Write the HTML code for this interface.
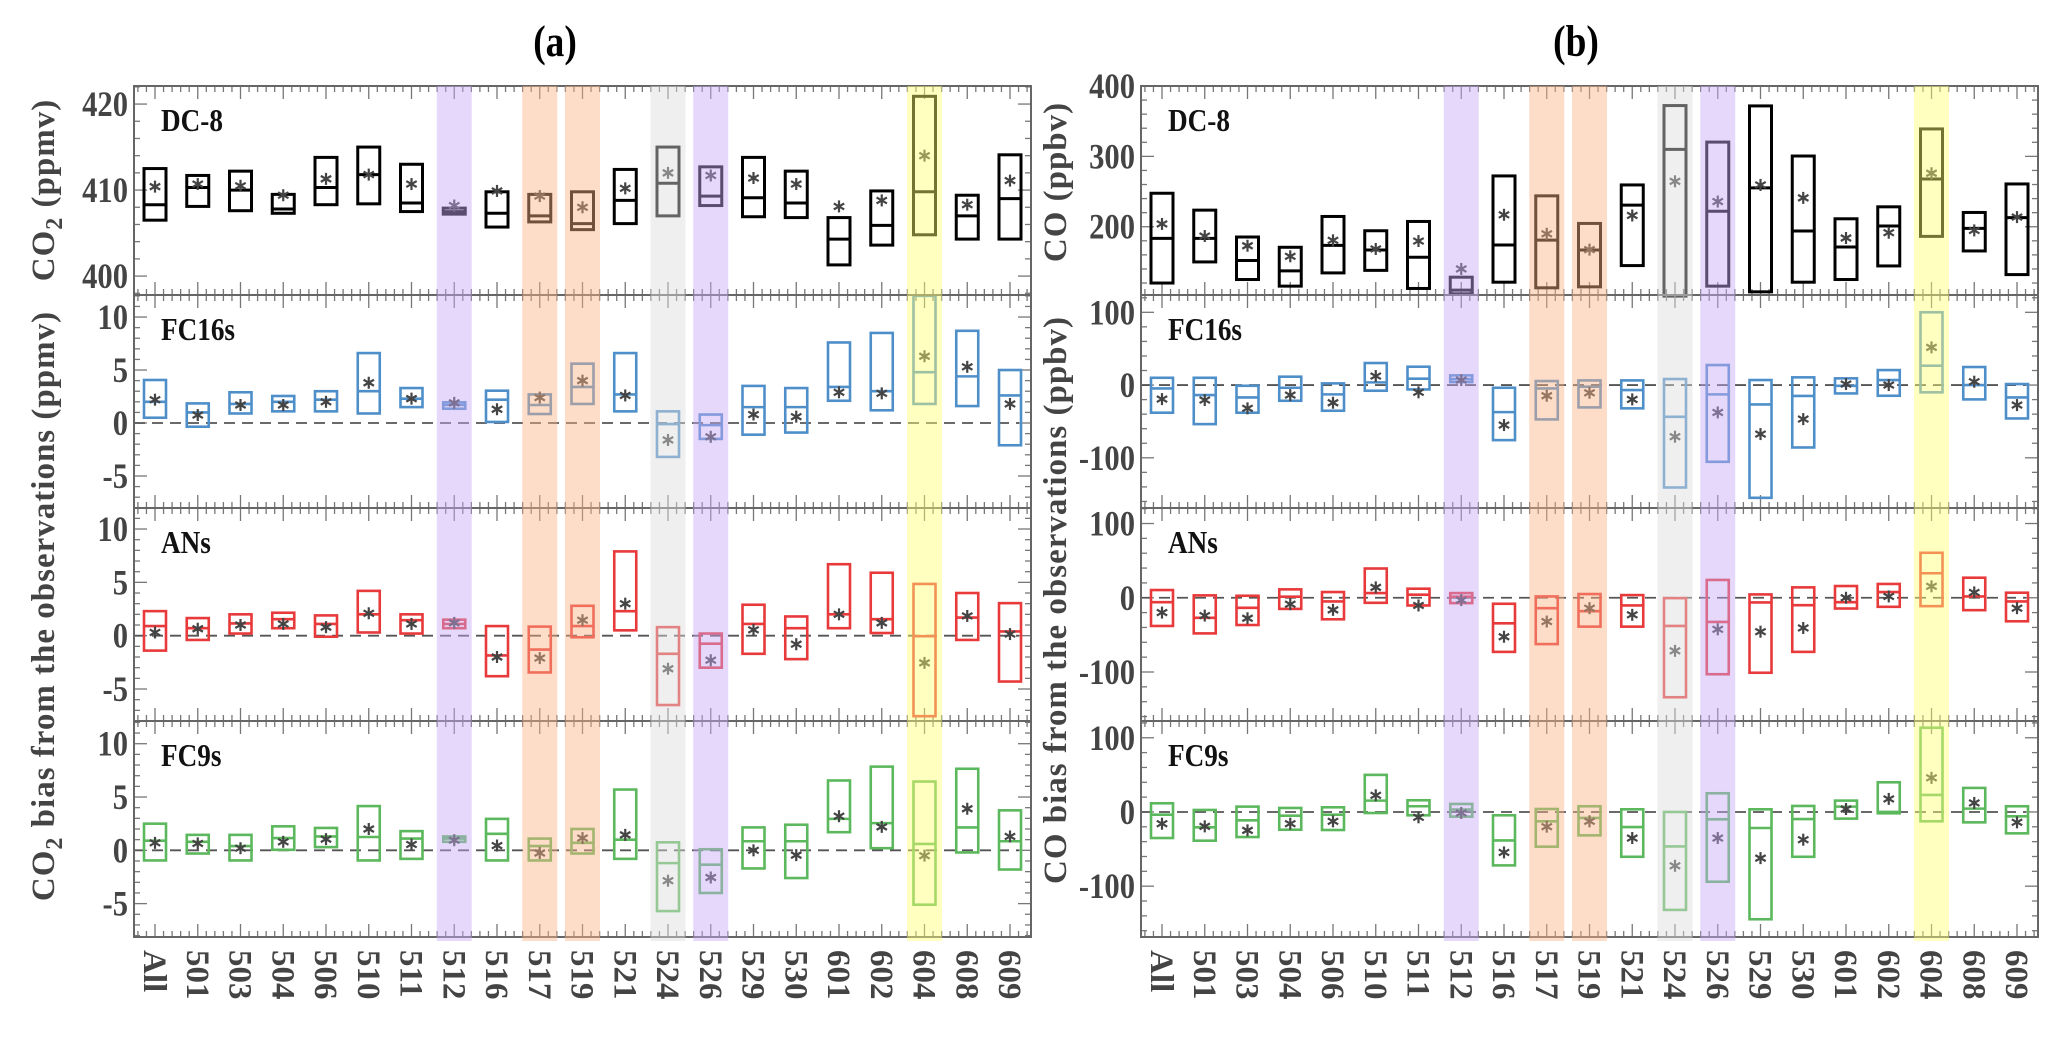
<!DOCTYPE html>
<html><head><meta charset="utf-8"><style>
html,body{margin:0;padding:0;background:#fff;}
svg{display:block;}
text{font-family:"Liberation Serif",serif;}
</style></head><body>
<svg id="chart" width="2066" height="1038" viewBox="0 0 2066 1038" xmlns="http://www.w3.org/2000/svg">
<text transform="translate(555,56) scale(0.85,1)" font-size="44" font-weight="bold" text-anchor="middle">(a)</text>
<text transform="translate(1576,56) scale(0.85,1)" font-size="44" font-weight="bold" text-anchor="middle">(b)</text>
<text transform="translate(54,190) rotate(-90)" font-size="33" font-weight="bold" fill="#444" text-anchor="middle" letter-spacing="1">CO<tspan font-size="24" dy="8">2</tspan><tspan dy="-8"> (ppmv)</tspan></text>
<text transform="translate(54,606) rotate(-90)" font-size="33" font-weight="bold" fill="#444" text-anchor="middle" letter-spacing="1">CO<tspan font-size="24" dy="8">2</tspan><tspan dy="-8"> bias from the observations (ppmv)</tspan></text>
<text transform="translate(1066,182) rotate(-90)" font-size="33" font-weight="bold" fill="#444" text-anchor="middle" letter-spacing="1">CO (ppbv)</text>
<text transform="translate(1066,600) rotate(-90)" font-size="33" font-weight="bold" fill="#444" text-anchor="middle" letter-spacing="1">CO bias from the observations (ppbv)</text>
<g id="layer"></g>
</svg>
<script>
const categories = ['All','501','503','504','506','510','511','512','516','517','519','521','524','526','529','530','601','602','604','608','609'];
const bandCats = ['512','517','519','524','526','604'];
const bandColors = ['#c5a8f5','#fbb285','#fbb285','#dcdcdc','#c5a8f5','#ffff73'];

// Panel (a) CO2
const co2Dc8High = [412.5,411.7,412.2,409.5,413.8,415,413,407.9,409.8,409.5,409.8,412.4,415,412.7,413.8,412.2,406.8,409.9,420.9,409.4,414.1];
const co2Dc8Med  = [408.3,410.3,410,407.8,410.3,411.8,408.5,407.5,407.3,407,406.1,408.8,410.8,409.3,409.1,408.5,404.3,405.9,409.8,407,409];
const co2Dc8Low  = [406.5,408.1,407.6,407.3,408.3,408.4,407.5,407.2,405.7,406.3,405.4,406.1,407,408.2,406.9,406.8,401.3,403.6,404.8,404.3,404.3];
const co2Dc8Mean = [410.4,410.7,410.5,409.4,411.3,411.8,410.7,408.2,409.9,409.3,408,410.2,412,411.7,411.4,410.7,408.1,408.8,414,408.3,411.1];

const co2Fc16High = [4.06,1.85,2.9,2.55,3,6.6,3.3,1.95,3.05,2.7,5.6,6.6,1.1,0.8,3.5,3.3,7.6,8.5,12,8.7,5];
const co2Fc16Med  = [2,1,1.8,2,2.2,3,2.3,1.7,2.2,1.7,3.4,2.7,-0.1,-0.2,1.5,1.5,3.4,3,4.8,4.4,2.6];
const co2Fc16Low  = [0.5,-0.35,0.9,1.1,1.1,0.9,1.5,1.35,0.1,0.85,1.8,1.1,-3.2,-1.5,-1.1,-0.9,2.1,1.2,1.8,1.6,-2.1];
const co2Fc16Mean = [2.2,0.75,1.7,1.7,2,3.8,2.3,1.9,1.3,2.4,4,2.6,-1.6,-1.3,0.8,0.6,2.9,2.8,6.3,5.3,1.8];

const co2AnHigh = [2.3,1.65,2,2.15,1.9,4.2,2,1.5,0.9,0.85,2.8,7.9,0.8,0.2,2.9,1.8,6.7,5.9,4.85,4,3.05];
const co2AnMed  = [0.9,0.7,1.15,1.55,1.1,2,1.45,1.1,-1.85,-1.3,0.9,2.3,-1.7,-0.75,1.1,0.7,2,1.55,-0.05,1.7,0.4];
const co2AnLow  = [-1.4,-0.4,0.2,0.7,-0.1,0.3,0.2,0.7,-3.8,-3.45,-0.15,0.5,-6.5,-3,-1.7,-2.2,0.7,0.25,-7.55,-0.4,-4.3];
const co2AnMean = [0.3,0.65,1,1.1,0.8,2.1,1.1,1.2,-2,-2.1,1.45,3,-3.1,-2.3,0.55,-0.8,2,1.2,-2.55,1.85,0.15];

const co2Fc9High = [2.5,1.45,1.45,2.25,2.1,4.15,1.8,1.3,2.95,1.1,2,5.7,0.75,0.1,2.15,2.4,6.55,7.85,6.45,7.65,3.75];
const co2Fc9Med  = [0.9,0.8,0.4,1.15,1.3,1.25,1.1,1.1,1.55,0.4,0.7,1,-1.2,-1.35,0.85,0.85,2.95,2.55,0.6,2.15,0.85];
const co2Fc9Low  = [-0.95,-0.3,-0.95,0.05,0.3,-0.95,-0.8,0.8,-0.95,-0.95,-0.3,-0.8,-5.7,-4,-1.7,-2.6,1.7,0.2,-5.1,-0.2,-1.8];
const co2Fc9Mean = [0.7,0.65,0.2,0.8,1.05,2,0.55,0.95,0.45,-0.25,1.15,1.45,-2.85,-2.55,0,-0.45,3.2,2.2,-0.5,3.9,1.3];

// Panel (b) CO
const coDc8High = [247.6,223.6,185.4,170.8,214.6,194.3,207.5,128.3,272.2,243.9,204.7,259.4,372.2,320.3,371.7,300.5,211.3,228.3,339,220.3,260.8];
const coDc8Med  = [183.5,183.5,152,137.3,173.6,167,156.6,110,174,181,167,230.7,310,222,255.2,193.9,171.2,201,267.9,197.6,213];
const coDc8Low  = [120,150,125,115.6,134.4,138,112.3,104.7,121.2,113.2,114.6,144.8,101.4,115.6,107.5,121.2,125,144.3,186.3,165.6,132];
const coDc8Mean = [204,186.8,173,158,180.7,168.4,179.7,140,217,190,167.5,216,264.6,235.8,259.4,241,184,191.5,276,194.8,213.7];

const coFc16High = [10,10,-1,11.5,2.3,30.3,25.2,13.3,-3.7,5.5,6.4,6.4,8.3,27.5,6.9,10.6,9.2,20.6,100,24.8,1.4];
const coFc16Med  = [-4.6,-13.8,-17,-3.7,-12.8,3.7,8.7,8.3,-37.2,-4.6,-2.3,-6.9,-43.6,-12.8,-26.6,-15,-1,6.9,26.6,0,-17];
const coFc16Low  = [-38,-53.7,-38,-21.6,-35.3,-7.8,-6,4.1,-75.7,-47.2,-30.7,-32,-140.8,-105.5,-155,-85.8,-11.5,-14.7,-10,-19.7,-45.9];
const coFc16Mean = [-19.3,-20.6,-32,-13.8,-24.3,12.4,-10,6.9,-55,-14.7,-10.6,-19.7,-71,-37.6,-67.4,-46.8,1.4,0,51.8,4.6,-27.5];

const coAnHigh = [10.4,3.2,2.7,11.3,7.7,39.4,12.2,6.3,-8.1,1.8,5,3.6,-0.5,24,4.5,14,15.8,18.6,60.6,27,6.8];
const coAnMed  = [-5.9,-27,-13.6,1.4,-5,6.3,4.1,1.4,-34.4,-14,-18.1,-10.4,-38,-32.6,-6.3,-10,-5.9,7.7,33,1.8,-5];
const coAnLow  = [-38,-48,-36.7,-15,-29,-6.8,-10.4,-7.2,-72.9,-62.4,-38.9,-38.9,-134,-103,-101,-72.9,-14.5,-12.2,-11.3,-16.7,-31.7];
const coAnMean = [-20,-24,-27.6,-8.6,-16.3,14,-10.4,-3.2,-52.5,-32.1,-14,-23,-71.5,-42.5,-45.7,-40.7,0,1.8,15.4,7.2,-14];

const coFc9High = [11.7,2.7,7.2,5.4,6.3,50,15.8,10.8,-4.5,4,7.7,3.6,0,25.2,3.6,8.1,15.3,40,113.5,32.4,7.7];
const coFc9Med  = [-3.6,-20.7,-11.3,-5,-3.6,15.3,7.7,3.2,-38.3,-12.6,-8.1,-20.3,-46.4,-9.9,-21.6,-9.5,7.2,0,23,4.5,-5.9];
const coFc9Low  = [-35.1,-38.7,-33.8,-23.9,-24.3,-1.4,-4.5,-6.3,-72,-46.8,-31.5,-60.4,-132,-94,-144.6,-60.4,-9,-1.8,-12.6,-14,-28.8];
const coFc9Mean = [-15.8,-19.4,-24.8,-15.8,-12.6,22.5,-7.2,-1.4,-54.5,-19.8,-12.6,-35.1,-72.5,-35.1,-62.2,-37.4,4,17.6,46,12.2,-14];

const NS='http://www.w3.org/2000/svg';
const layer=document.getElementById('layer');
function mk(tag,attrs,parent){const e=document.createElementNS(NS,tag);for(const k in attrs)e.setAttribute(k,attrs[k]);(parent||layer).appendChild(e);return e;}

const panelRows=[[86,295],[295,508],[508,721],[721,937]];
const cols=[
 {x0:134,x1:1031,c0:155,prefix:'co2',
  panels:[
   {name:'DC-8',color:'#000',sw:3,dom:[397.8,422.1],major:[400,410,420],minorStep:2,zero:false,hi:co2Dc8High,med:co2Dc8Med,lo:co2Dc8Low,mean:co2Dc8Mean},
   {name:'FC16s',color:'#4f8fc9',sw:2.6,dom:[-8.02,12.08],major:[-5,0,5,10],minorStep:1,zero:true,hi:co2Fc16High,med:co2Fc16Med,lo:co2Fc16Low,mean:co2Fc16Mean},
   {name:'ANs',color:'#e8393b',sw:2.6,dom:[-8,11.97],major:[-5,0,5,10],minorStep:1,zero:true,hi:co2AnHigh,med:co2AnMed,lo:co2AnLow,mean:co2AnMean},
   {name:'FC9s',color:'#5cb85c',sw:2.6,dom:[-8.13,12.13],major:[-5,0,5,10],minorStep:1,zero:true,hi:co2Fc9High,med:co2Fc9Med,lo:co2Fc9Low,mean:co2Fc9Mean}]},
 {x0:1141,x1:2038,c0:1162,prefix:'co',
  panels:[
   {name:'DC-8',color:'#000',sw:3,dom:[103,400],major:[200,300,400],minorStep:20,zero:false,hi:coDc8High,med:coDc8Med,lo:coDc8Low,mean:coDc8Mean},
   {name:'FC16s',color:'#4f8fc9',sw:2.6,dom:[-169,123.8],major:[-100,0,100],minorStep:20,zero:true,hi:coFc16High,med:coFc16Med,lo:coFc16Low,mean:coFc16Mean},
   {name:'ANs',color:'#e8393b',sw:2.6,dom:[-166,120.9],major:[-100,0,100],minorStep:20,zero:true,hi:coAnHigh,med:coAnMed,lo:coAnLow,mean:coAnMean},
   {name:'FC9s',color:'#5cb85c',sw:2.6,dom:[-168.5,122.6],major:[-100,0,100],minorStep:20,zero:true,hi:coFc9High,med:coFc9Med,lo:coFc9Low,mean:coFc9Mean}]}
];
const step=42.75, boxW=22;

cols.forEach(col=>{
  const xOf=i=>col.c0+i*step;
  col.panels.forEach((p,pi)=>{
    const [yt,yb]=panelRows[pi];
    const yOf=v=>yb-(v-p.dom[0])/(p.dom[1]-p.dom[0])*(yb-yt);
    const g=mk('g',{});
    
    
    for(let i=-1;i<categories.length+1;i++){
      for(let k=0;k<5;k++){
        const x=col.c0+i*step+k*step/5;
        if(x<col.x0+1||x>col.x1-1)continue;
        const L=k===0?13:6;
        mk('line',{x1:x,x2:x,y1:yt,y2:yt+L,stroke:'#777','stroke-width':1.3},g);
        mk('line',{x1:x,x2:x,y1:yb,y2:yb-L,stroke:'#777','stroke-width':1.3},g);
      }
    }
    const start=Math.ceil(p.dom[0]/p.minorStep)*p.minorStep;
    for(let v=start;v<=p.dom[1];v+=p.minorStep){
      const y=yOf(v);
      const isMaj=p.major.some(m=>Math.abs(m-v)<1e-6);
      const L=isMaj?13:6;
      mk('line',{x1:col.x0,x2:col.x0+L,y1:y,y2:y,stroke:'#777','stroke-width':1.3},g);
      mk('line',{x1:col.x1,x2:col.x1-L,y1:y,y2:y,stroke:'#777','stroke-width':1.3},g);
    }
    p.major.forEach(v=>{
      const t=mk('text',{transform:'translate('+(col.x0-6)+','+(yOf(v)+12)+') scale(0.85,1)','font-size':36,'font-weight':'bold',fill:'#444','text-anchor':'end'},g);
      t.textContent=v;
      
      
    });
    if(p.zero){
      const z=mk('line',{x1:col.x0,x2:col.x1-12,y1:yOf(0),y2:yOf(0),stroke:'#555','stroke-width':1.8,'stroke-dasharray':'11 7'},g);
      
      
    }
    const lab=mk('text',{transform:'translate('+(col.x0+27)+','+(yt+45)+') scale(0.85,1)','font-size':32,'font-weight':'bold',fill:'#111'},g);
    lab.textContent=p.name;
    
    
    categories.forEach((c,i)=>{
      const x=xOf(i);
      const bg=mk('g',{},g);
      
      
      const yh=yOf(p.hi[i]), yl=yOf(p.lo[i]);
      mk('rect',{x:x-boxW/2,y:yh,width:boxW,height:Math.max(1,yl-yh),fill:'none',stroke:p.color,'stroke-width':p.sw},bg);
      mk('line',{x1:x-boxW/2,x2:x+boxW/2,y1:yOf(p.med[i]),y2:yOf(p.med[i]),stroke:p.color,'stroke-width':p.sw},bg);
      const ym=yOf(p.mean[i]);
      const s=mk('g',{stroke:'#444','stroke-width':2.2},bg);
      
      
      for(let a=0;a<3;a++){
        const ang=Math.PI/2+a*Math.PI/3, r=6;
        mk('line',{x1:x-r*Math.cos(ang),y1:ym-r*Math.sin(ang),x2:x+r*Math.cos(ang),y2:ym+r*Math.sin(ang)},s);
      }
    });
    mk('rect',{x:col.x0,y:yt,width:col.x1-col.x0,height:yb-yt,fill:'none',stroke:'#666','stroke-width':2},g);
  });
  bandCats.forEach((bc,j)=>{
    const i=categories.indexOf(bc);
    const b=mk('rect',{x:xOf(i)-17.5,y:86,width:35,height:855,fill:bandColors[j],opacity:0.45});
    
    
  });
  categories.forEach((c,i)=>{
    const t=mk('text',{transform:'translate('+(xOf(i)-11)+',950) rotate(90)','font-size':33,'font-weight':'bold',fill:'#444'});
    t.textContent=c;
    
    
  });
});
</script>
</body></html>
